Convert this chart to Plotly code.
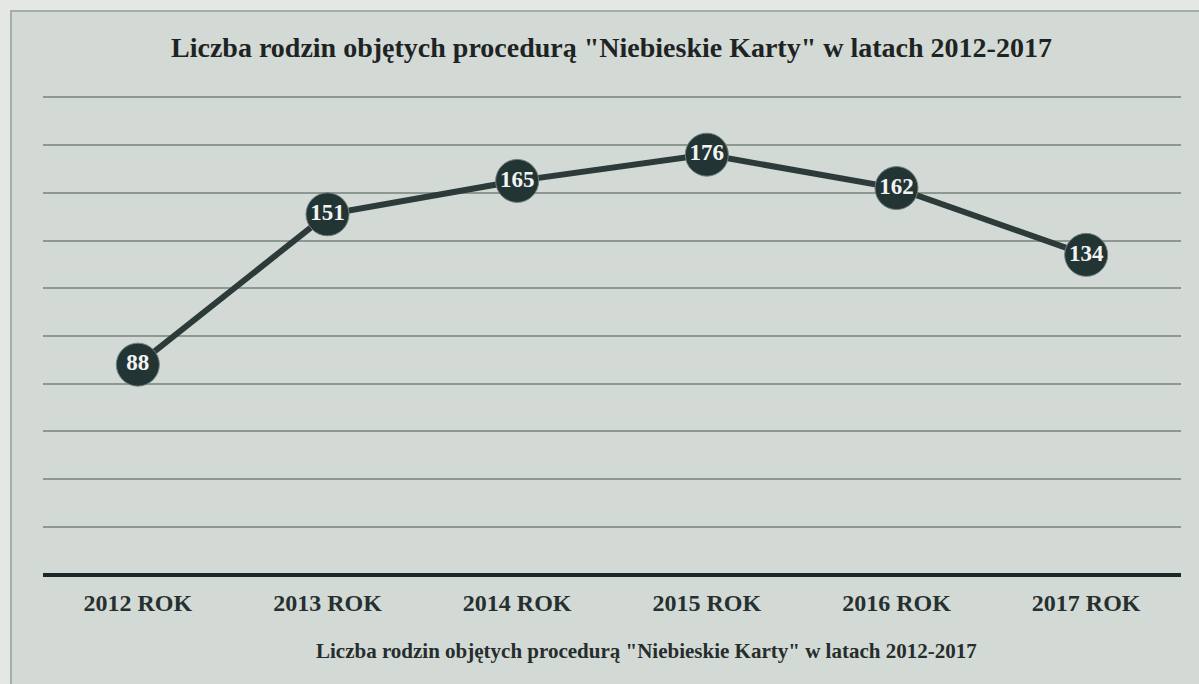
import plotly.graph_objects as go

categories = ["2012 ROK", "2013 ROK", "2014 ROK", "2015 ROK", "2016 ROK", "2017 ROK"]
values = [88, 151, 165, 176, 162, 134]
title_text = 'Liczba rodzin objętych procedurą "Niebieskie Karty" w latach 2012-2017'
caption_text = 'Liczba rodzin objętych procedurą "Niebieskie Karty" w latach 2012-2017'

W, H = 1199, 684
ML, MR, MT, MB = 43, 18, 95, 107
plot_w = W - ML - MR
plot_h = H - MT - MB

def px_x(p):
    return (p - ML) / plot_w

def px_y(p):
    return (H - MB - p) / plot_h

SERIF = "Liberation Serif, Times New Roman, serif"
DARK = "#223434"

fig = go.Figure()
fig.add_trace(go.Scatter(
    x=categories, y=values,
    mode="lines+markers+text",
    line=dict(color="#2c3a3a", width=6),
    marker=dict(size=43, color=DARK, line=dict(color="#6f7f7c", width=1)),
    text=[str(v) for v in values],
    textposition="middle center",
    textfont=dict(family=SERIF, size=23, color="#f2f4f2", weight="bold"),
    cliponaxis=False,
    hoverinfo="skip",
))

fig.update_layout(
    width=W, height=H,
    margin=dict(l=ML, r=MR, t=MT, b=MB),
    paper_bgcolor="#e4e7e3",
    plot_bgcolor="rgba(0,0,0,0)",
    showlegend=False,
    font=dict(family=SERIF, color="#232a2a"),
    xaxis=dict(
        type="category", range=[-0.5, 5.5],
        showgrid=False, zeroline=False, showline=False, ticks="",
        tickfont=dict(family=SERIF, size=24, color="#263030", weight="bold"),
        ticklabelstandoff=9, fixedrange=True,
    ),
    yaxis=dict(
        range=[-1, 201], tickmode="linear", tick0=0, dtick=20,
        showgrid=True, gridcolor="#8e9893", gridwidth=1.5,
        zeroline=True, zerolinecolor="#1b2626", zerolinewidth=3.5,
        showticklabels=False, showline=False, ticks="", fixedrange=True,
    ),
    shapes=[
        dict(type="rect", xref="paper", yref="paper",
             x0=px_x(11), x1=px_x(W + 5), y0=px_y(H + 5), y1=px_y(11),
             fillcolor="#d3d9d4", line=dict(color="#a4aea9", width=2),
             layer="below"),
    ],
    annotations=[
        dict(text=f"<b>{title_text}</b>", xref="paper", yref="paper",
             x=px_x(611), y=px_y(48), xanchor="center", yanchor="middle",
             showarrow=False, font=dict(family=SERIF, size=28, color="#1e2424")),
        dict(text=f"<b>{caption_text}</b>", xref="paper", yref="paper",
             x=px_x(646), y=px_y(651), xanchor="center", yanchor="middle",
             showarrow=False, font=dict(family=SERIF, size=21, color="#262d2d")),
    ],
)

fig.write_html(
    "out.html",
    config={"displayModeBar": False},
    post_script="document.body.style.margin='0';document.body.style.overflow='hidden';document.body.style.background='#e4e7e3';",
)
